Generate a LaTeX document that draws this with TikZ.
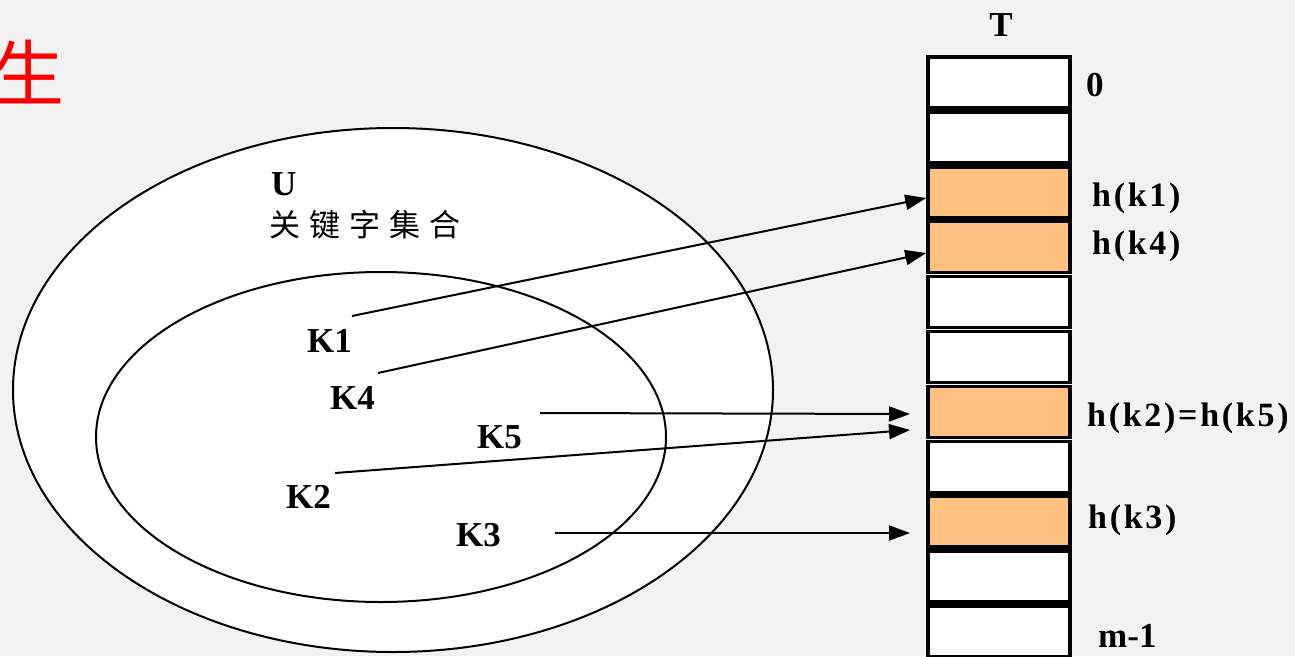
\documentclass[tikz,border=0pt]{standalone}
\usepackage{fontspec}
\setmainfont{Liberation Serif}
\newfontfamily\cjk{Noto Sans CJK SC}
\newfontfamily\wideserif[LetterSpace=8]{Liberation Serif}
\usetikzlibrary{shapes.geometric,arrows.meta}
\definecolor{bg}{HTML}{F2F2F2}
\definecolor{hit}{HTML}{FFC080}
\tikzset{
  lbl/.style={font=\fontsize{35}{40}\selectfont\bfseries, inner sep=0pt},
  hlbl/.style={font=\fontsize{34}{40}\selectfont\wideserif\bfseries, inner sep=0pt, anchor=west},
  cell/.style={draw=black, line width=3.5pt, fill=white, minimum width=142pt, minimum height=51pt, inner sep=0pt},
  hcell/.style={cell, fill=hit},
  set/.style={draw=black, line width=2pt, fill=white, ellipse, inner sep=0pt},
  conn/.style={line width=2pt, -{Triangle[length=21pt,width=15pt]}}
}
\begin{document}
\begin{tikzpicture}[x=1pt,y=-1pt]
\fill[bg] (0,0) rectangle (1295,656);
\useasboundingbox (0,0) rectangle (1295,656);

\node[text=red, font=\cjk\fontsize{72}{74}\selectfont, inner sep=0pt] (title) at (29,72) {生};

% sets
\node[set, minimum width=760pt, minimum height=524pt] (outer) at (393,390) {};
\node[set, minimum width=570pt, minimum height=330pt] (inner) at (381,437) {};

\node[lbl, anchor=west] (U) at (271,184) {U};
\node[font=\cjk\fontsize{31}{34}\selectfont, inner sep=0pt, anchor=west] (uset) at (269,225) {关\hspace{9pt}键\hspace{9pt}字\hspace{9pt}集\hspace{9pt}合};

\node[lbl, anchor=west] (k1) at (307,341) {K1};
\node[lbl, anchor=west] (k4) at (330,398) {K4};
\node[lbl, anchor=west] (k5) at (477,437) {K5};
\node[lbl, anchor=west] (k2) at (286,497) {K2};
\node[lbl, anchor=west] (k3) at (456,535) {K3};

% table
\node[lbl] (T) at (1001,25) {T};
\foreach \i in {0,...,10}{
  \pgfmathsetmacro{\yy}{57+54.9*\i+25.5}
  \ifnum\i=2 \def\st{hcell}\else\ifnum\i=3 \def\st{hcell}\else\ifnum\i=6 \def\st{hcell}\else\ifnum\i=8 \def\st{hcell}\else\def\st{cell}\fi\fi\fi\fi
  \node[\st] (c\i) at (999,\yy) {};
}
\node[lbl, anchor=west] (l0) at (1086,85) {0};
\node[hlbl] (l2) at (1092,198) {h(k1)};
\node[hlbl] (l3) at (1092,246) {h(k4)};
\node[hlbl] (l6) at (1087,418) {h(k2)=h(k5)};
\node[hlbl] (l8) at (1088,520) {h(k3)};
\node[lbl, anchor=west] (l10) at (1098,636) {m-1};

% connectors
\coordinate (s1) at (352,316);
\coordinate (s4) at (378,373);
\coordinate (s5) at (540,413);
\coordinate (s2) at (335,473);
\coordinate (s3) at (555,533);
\coordinate (e5) at (910,414);
\coordinate (e2) at (910,430);
\coordinate (e3) at (910,533);
\draw[conn] (s1) -- (c2.west |- 0,198);
\draw[conn] (s4) -- (c3.west |- 0,253);
\draw[conn] (s5) -- (e5);
\draw[conn] (s2) -- (e2);
\draw[conn] (s3) -- (e3);
\end{tikzpicture}
\end{document}
